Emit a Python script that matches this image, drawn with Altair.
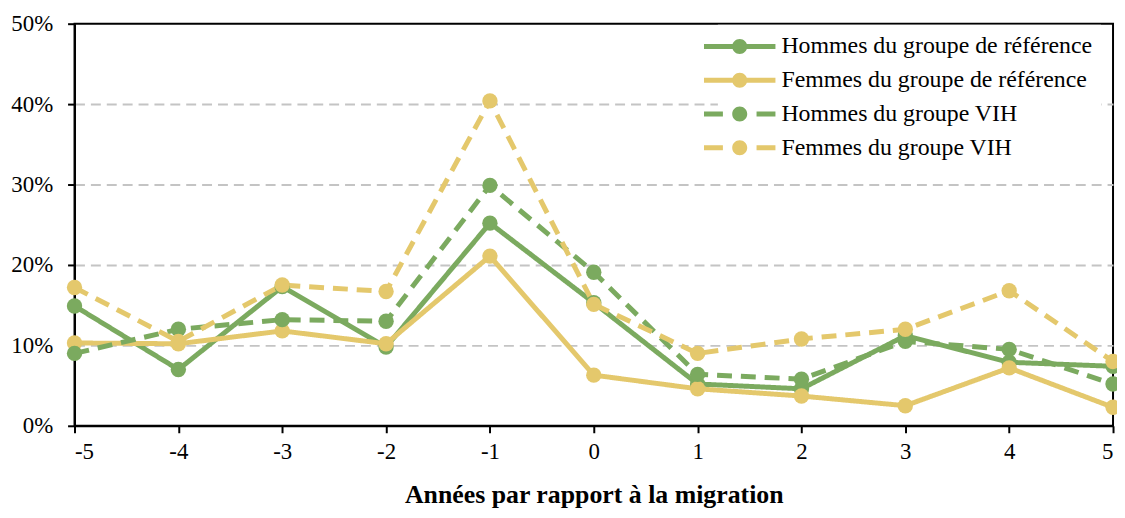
import altair as alt
import pandas as pd

years = [-5, -4, -3, -2, -1, 0, 1, 2, 3, 4, 5]
series_names = [
    "Hommes du groupe de référence",
    "Femmes du groupe de référence",
    "Hommes du groupe VIH",
    "Femmes du groupe VIH",
]
hommes_ref = [14.9, 7.0, 17.3, 9.8, 25.2, 15.3, 5.2, 4.6, 11.2, 7.9, 7.4]
femmes_ref = [10.3, 10.2, 11.8, 10.2, 21.1, 6.3, 4.6, 3.7, 2.5, 7.2, 2.3]
hommes_vih = [9.0, 12.0, 13.2, 13.0, 29.9, 19.1, 6.4, 5.8, 10.5, 9.5, 5.2]
femmes_vih = [17.2, 10.5, 17.5, 16.7, 40.4, 15.1, 9.0, 10.8, 12.0, 16.8, 8.0]

colors = ["#7BAA5F", "#E4C86C", "#7BAA5F", "#E4C86C"]
dashes = [[1, 0], [1, 0], [15, 9], [15, 9]]

circle = "M0.54,0 A0.54,0.54 0 1,1 -0.54,0 A0.54,0.54 0 1,1 0.54,0 Z"
solid_sym = "M-2.57,-0.18 H-0.3 V0.18 H-2.57 Z M0.3,-0.18 H2.57 V0.18 H0.3 Z " + circle
dash_sym = "M-2.57,-0.18 H-1.21 V0.18 H-2.57 Z M1.21,-0.18 H2.57 V0.18 H1.21 Z " + circle
shapes = [solid_sym, solid_sym, dash_sym, dash_sym]

rows = []
for name, vals in zip(series_names, [hommes_ref, femmes_ref, hommes_vih, femmes_vih]):
    for yr, v in zip(years, vals):
        rows.append({"annee": yr, "valeur": v, "serie": name})
df = pd.DataFrame(rows)

FONT = "Liberation Serif"

x_enc = alt.X(
    "annee:Q",
    scale=alt.Scale(domain=[-5, 5], nice=False, zero=False),
    axis=alt.Axis(
        title="Années par rapport à la migration",
        values=years,
        labelExpr="'' + datum.value",
        grid=False,
        tickSize=7,
        tickWidth=2,
        tickColor="black",
        domainColor="black",
        domainWidth=2,
        labelPadding=8,
        labelFontSize=23,
        labelFont=FONT,
        labelColor="black",
        titleFont=FONT,
        titleFontSize=26,
        titleFontWeight="bold",
        titleColor="black",
        titlePadding=18,
    ),
)
y_enc = alt.Y(
    "valeur:Q",
    scale=alt.Scale(domain=[0, 50], nice=False),
    axis=alt.Axis(
        title=None,
        values=[0, 10, 20, 30, 40, 50],
        labelExpr="datum.value + '%'",
        grid=True,
        gridColor="#C4C4C4",
        gridDash=[10, 6],
        gridWidth=2,
        gridOpacity={"condition": {"test": "datum.value == 0 || datum.value == 50", "value": 0}, "value": 1},
        tickSize=7,
        tickWidth=2,
        tickColor="black",
        domainColor="black",
        domainWidth=2,
        labelPadding=15,
        labelFontSize=23,
        labelFont=FONT,
        labelColor="black",
    ),
)

color_scale = alt.Scale(domain=series_names, range=colors)

lines = alt.Chart(df).mark_line(strokeWidth=5).encode(
    x=x_enc,
    y=y_enc,
    color=alt.Color("serie:N", scale=color_scale, legend=None),
    strokeDash=alt.StrokeDash(
        "serie:N", scale=alt.Scale(domain=series_names, range=dashes), legend=None
    ),
)

points = alt.Chart(df).mark_point(filled=True, size=240, opacity=1).encode(
    x=x_enc,
    y=y_enc,
    color=alt.Color("serie:N", scale=color_scale, legend=None),
)

leg = alt.Legend(
    title=None,
    orient="none",
    legendX=648,
    legendY=1,
    padding=8,
    fillColor="white",
    symbolSize=784,
    symbolOpacity=1,
    symbolStrokeWidth=0,
    labelOffset=28,
    rowPadding=8,
    labelFont=FONT,
    labelFontSize=24,
    labelColor="black",
    labelLimit=400,
)

legend_layer = alt.Chart(df).mark_point(filled=True, size=1, opacity=0).encode(
    x=x_enc,
    y=y_enc,
    color=alt.Color("serie:N", scale=color_scale, legend=leg),
    shape=alt.Shape(
        "serie:N",
        scale=alt.Scale(domain=series_names, range=shapes),
        legend=leg,
    ),
)

chart = (
    alt.layer(lines, points, legend_layer)
    .resolve_scale(color="independent", strokeDash="independent", shape="independent")
    .resolve_legend(color="independent", strokeDash="independent", shape="independent")
    .properties(
        width=1046,
        height=405,
        autosize=alt.AutoSizeParams(type="none"),
        padding={"left": 67, "top": 14, "right": 4, "bottom": 83},
        background="white",
    )
    .configure(font=FONT)
    .configure_view(stroke="black", strokeWidth=2)
)

chart.save("out.html", embed_options={"renderer": "svg", "actions": False})
